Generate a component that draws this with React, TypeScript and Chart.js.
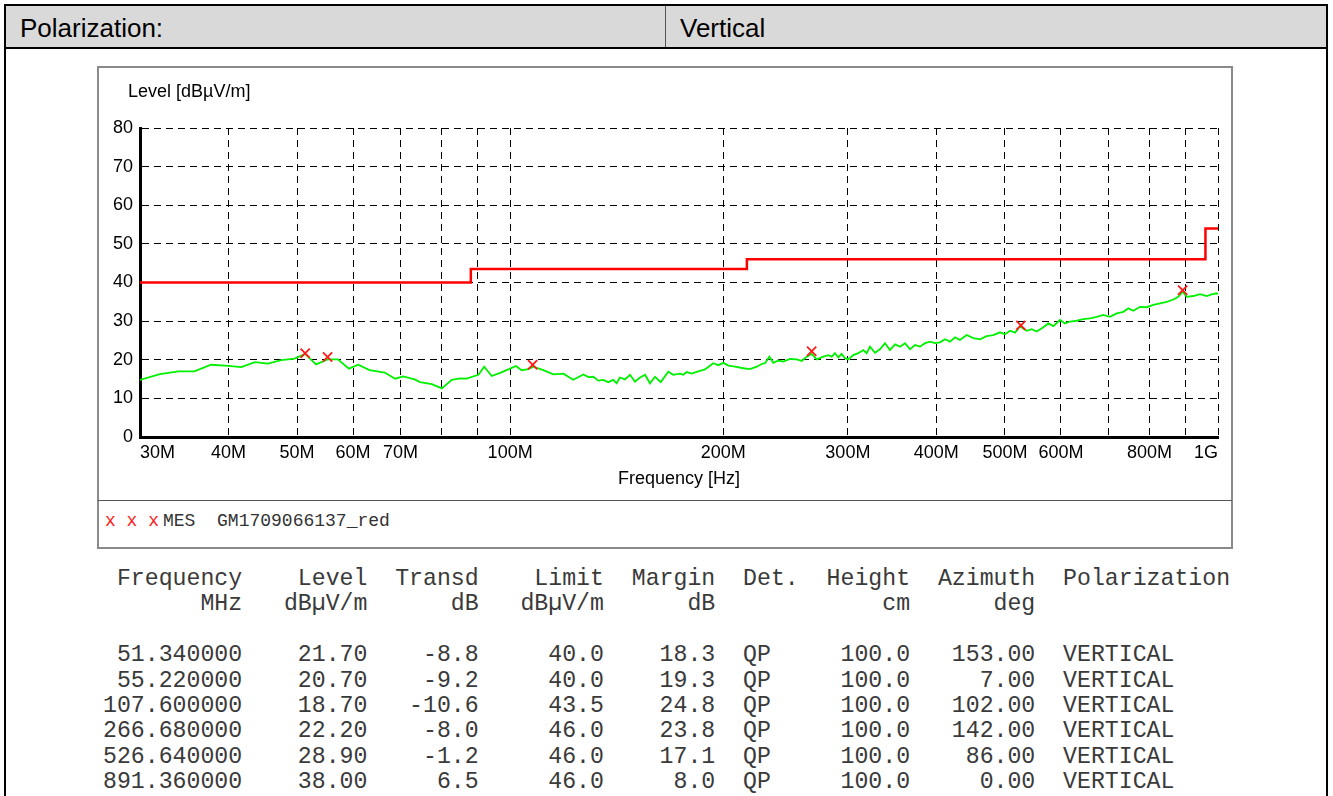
import React, { useEffect, useRef } from 'react';
import { Chart, registerables } from 'chart.js';

Chart.register(...registerables);

// ---- Data ----
const scanFreq = [
  30.0, 32.0, 34.0, 35.8, 37.8, 40.0, 41.7, 43.6, 45.5, 47.5, 49.6, 51.3, 53.2, 55.2, 57.1, 59.2, 61.0, 63.3, 66.5, 68.8,
  70.6, 73.3, 74.6, 77.5, 80.1, 82.7, 85.0, 86.8, 90.2, 91.9, 94.2, 96.8, 100.0, 101.9, 103.8, 106.1, 107.8, 111.4, 115.1, 118.9,
  122.8, 126.9, 129.0, 131.1, 133.2, 135.4, 137.6, 139.9, 141.4, 142.9, 145.3, 147.7, 150.1, 152.6, 155.1, 157.6, 160.2, 163.2, 167.3, 170.0,
  173.8, 175.6, 177.6, 180.5, 184.4, 188.5, 193.6, 196.8, 200.1, 203.4, 207.9, 213.5, 218.2, 223.0, 226.7, 229.1, 232.4, 235.4, 239.3, 243.2,
  248.6, 254.0, 258.2, 262.4, 266.7, 271.1, 277.0, 281.5, 284.7, 287.7, 290.8, 294.0, 297.2, 300.4, 305.3, 310.3, 315.4, 318.9, 322.4, 327.7,
  333.0, 338.5, 344.0, 349.7, 355.4, 361.3, 367.2, 373.2, 379.4, 385.6, 391.9, 398.3, 404.8, 411.5, 418.2, 425.1, 432.0, 441.6, 451.1, 461.1,
  471.2, 481.5, 492.1, 500.2, 508.4, 516.7, 525.2, 536.8, 545.6, 554.5, 566.6, 575.9, 585.3, 598.2, 608.0, 618.0, 631.6, 645.3, 659.5, 674.0,
  688.6, 703.8, 719.3, 734.9, 747.0, 759.2, 776.0, 793.1, 810.3, 828.1, 846.4, 864.7, 878.9, 891.6, 903.3, 922.9, 943.2, 964.0, 979.7, 995.8,
  1000.0,
];
const scanLevel = [
  14.8, 16.3, 17.0, 17.0, 18.7, 18.4, 18.1, 19.4, 19.0, 19.9, 20.3, 21.5, 18.8, 20.1, 20.1, 17.7, 18.7, 17.3, 16.7, 15.1,
  15.7, 14.9, 14.2, 13.7, 12.6, 14.8, 15.2, 15.1, 16.1, 18.2, 15.8, 16.6, 17.7, 18.4, 17.3, 17.6, 18.2, 17.3, 16.2, 16.4,
  14.8, 16.2, 15.5, 15.6, 14.6, 14.8, 14.2, 14.8, 13.9, 15.4, 14.9, 16.1, 14.3, 15.4, 16.1, 13.9, 15.6, 14.2, 16.9, 16.1,
  16.4, 16.1, 16.8, 16.4, 17.0, 17.5, 19.1, 18.6, 19.2, 18.5, 18.2, 17.8, 17.6, 18.2, 18.9, 19.1, 20.8, 19.2, 19.8, 19.5,
  20.2, 20.1, 19.7, 20.8, 21.5, 20.1, 20.8, 21.2, 20.8, 21.7, 20.6, 21.5, 20.4, 20.1, 21.2, 21.7, 22.5, 21.7, 23.4, 21.8,
  22.7, 24.3, 22.5, 24.0, 23.4, 24.3, 22.7, 23.8, 23.4, 24.3, 24.7, 24.3, 24.5, 25.3, 24.7, 25.8, 25.1, 26.4, 25.6, 25.3,
  26.1, 26.4, 27.1, 26.6, 27.5, 27.0, 28.6, 27.5, 27.9, 27.3, 28.4, 29.4, 28.7, 30.3, 29.4, 29.9, 30.1, 30.5, 30.7, 31.1,
  31.6, 31.1, 32.0, 32.4, 33.3, 32.7, 33.7, 33.6, 34.2, 34.6, 35.0, 35.6, 36.3, 37.6, 36.3, 36.5, 37.0, 36.5, 36.9, 37.2,
  37.0,
];

const limitFreq = [30, 88, 216, 960, 1000];
const limitLevel = [40, 43.5, 46, 54, 54];

const mesFreq = [51.34, 55.22, 107.6, 266.68, 526.64, 891.36];
const mesLevel = [21.7, 20.7, 18.7, 22.2, 28.9, 38.0];
const mesTransd = [-8.8, -9.2, -10.6, -8.0, -1.2, 6.5];
const mesLimit = [40.0, 40.0, 43.5, 46.0, 46.0, 46.0];
const mesMargin = [18.3, 19.3, 24.8, 23.8, 17.1, 8.0];
const mesDet = ['QP', 'QP', 'QP', 'QP', 'QP', 'QP'];
const mesHeight = [100.0, 100.0, 100.0, 100.0, 100.0, 100.0];
const mesAzimuth = [153.0, 7.0, 102.0, 142.0, 86.0, 0.0];
const mesPol = ['VERTICAL', 'VERTICAL', 'VERTICAL', 'VERTICAL', 'VERTICAL', 'VERTICAL'];

const xTickValues = [30, 40, 50, 60, 70, 80, 90, 100, 200, 300, 400, 500, 600, 700, 800, 900, 1000];
const xTickLabels = ['30M', '40M', '50M', '60M', '70M', '', '', '100M', '200M', '300M', '400M', '500M', '600M', '', '800M', '', '1G'];
const yTickValues = [0, 10, 20, 30, 40, 50, 60, 70, 80];

const SANS = '"Liberation Sans", Arial, sans-serif';
const MONO = '"Liberation Mono", "Courier New", monospace';

const headerLine1 =
  ' Frequency' + '    Level' + '  Transd' + '    Limit' + '  Margin' + '  Det.' + '  Height' + '  Azimuth' + '  Polarization';
const headerLine2 =
  '       MHz' + '   dBµV/m' + '      dB' + '   dBµV/m' + '      dB' + '      ' + '      cm' + '      deg';

function tableLines(): string[] {
  const rows = mesFreq.map((f, i) =>
    f.toFixed(6).padStart(10) +
    mesLevel[i].toFixed(2).padStart(9) +
    mesTransd[i].toFixed(1).padStart(8) +
    mesLimit[i].toFixed(1).padStart(9) +
    mesMargin[i].toFixed(1).padStart(8) +
    '  ' + mesDet[i] +
    mesHeight[i].toFixed(1).padStart(10) +
    mesAzimuth[i].toFixed(2).padStart(9) +
    '  ' + mesPol[i]
  );
  return [headerLine1, headerLine2, '', ...rows];
}

export default function App() {
  const canvasRef = useRef<HTMLCanvasElement | null>(null);

  useEffect(() => {
    const canvas = canvasRef.current;
    if (!canvas) return;
    const gridOpts = { color: '#000', lineWidth: 1, drawTicks: false };
    const borderOpts = { display: true, color: '#000', width: 3, dash: [7, 5] };
    const chart = new Chart(canvas, {
      type: 'line',
      data: {
        datasets: [
          {
            label: 'MES',
            data: mesFreq.map((f, i) => ({ x: f, y: mesLevel[i] })),
            showLine: false,
            pointStyle: 'crossRot',
            pointRadius: 6.5,
            pointBorderWidth: 1.8,
            borderColor: '#ff1a1a',
            backgroundColor: '#ff1a1a',
          },
          {
            label: 'Limit',
            data: limitFreq.map((f, i) => ({ x: f, y: limitLevel[i] })),
            stepped: 'before',
            borderColor: '#ff0000',
            borderWidth: 2.5,
            pointRadius: 0,
          },
          {
            label: 'Scan',
            data: scanFreq.map((f, i) => ({ x: f, y: scanLevel[i] })),
            borderColor: '#00f000',
            borderWidth: 1.8,
            pointRadius: 0,
            tension: 0,
          },
        ],
      },
      options: {
        responsive: false,
        animation: false,
        events: [],
        layout: { padding: { left: 0, right: 10, top: 61, bottom: 0 } },
        plugins: {
          legend: { display: false },
          tooltip: { enabled: false },
          title: { display: false },
        },
        scales: {
          x: {
            type: 'logarithmic',
            min: 30,
            max: 1000,
            afterBuildTicks: (s: any) => {
              s.ticks = xTickValues.map((v) => ({ value: v }));
            },
            afterFit: (s: any) => {
              s.height = 63;
            },
            ticks: {
              autoSkip: false,
              maxRotation: 0,
              minRotation: 0,
              align: 'inner',
              padding: 5,
              color: '#000',
              font: { size: 18, family: SANS },
              callback: (_v: any, i: number) => xTickLabels[i] ?? '',
            },
            grid: gridOpts,
            border: borderOpts,
            title: {
              display: true,
              text: 'Frequency [Hz]',
              color: '#000',
              font: { size: 18, family: SANS },
              padding: { top: 0, bottom: 10 },
            },
          },
          y: {
            type: 'linear',
            min: 0,
            max: 80,
            afterBuildTicks: (s: any) => {
              s.ticks = yTickValues.map((v) => ({ value: v }));
            },
            afterFit: (s: any) => {
              s.width = 42;
            },
            ticks: {
              padding: 7,
              color: '#000',
              font: { size: 18, family: SANS },
              callback: (v: any) => String(v),
            },
            grid: gridOpts,
            border: borderOpts,
          },
        },
      } as any,
    });
    return () => chart.destroy();
  }, []);

  const abs = (o: React.CSSProperties): React.CSSProperties => ({ position: 'absolute', boxSizing: 'border-box', ...o });

  return (
    <div style={abs({ left: 0, top: 0, width: 1333, height: 796, overflow: 'hidden', background: '#fff', fontFamily: SANS, color: '#000' })}>
      {/* header row */}
      <div style={abs({ left: 4, top: 4, width: 1324, height: 45, border: '2px solid #000', background: '#d9d9d9' })} />
      <div style={abs({ left: 665, top: 6, width: 1, height: 41, background: '#555' })} />
      <div style={abs({ left: 20, top: 14, height: 28, lineHeight: '28px', fontSize: 26, whiteSpace: 'nowrap' })}>Polarization:</div>
      <div style={abs({ left: 680, top: 14, height: 28, lineHeight: '28px', fontSize: 26, whiteSpace: 'nowrap' })}>Vertical</div>
      {/* body box */}
      <div style={abs({ left: 4, top: 47, width: 1324, height: 760, borderLeft: '2px solid #000', borderRight: '2px solid #000' })} />
      {/* chart frame */}
      <div style={abs({ left: 97, top: 66, width: 1136, height: 483, border: '2px solid #8a8a8a' })} />
      <div style={abs({ left: 98, top: 500, width: 1134, height: 1, background: '#555' })} />
      <canvas ref={canvasRef} width={1130} height={433} style={abs({ left: 98, top: 67, width: 1130, height: 433, display: 'block' })} />
      <div style={abs({ left: 128, top: 81, height: 20, lineHeight: '20px', fontSize: 18, whiteSpace: 'nowrap' })}>Level [dBµV/m]</div>
      {/* legend */}
      <div style={abs({ left: 105, top: 511, height: 20, lineHeight: '20px', fontSize: 18, fontFamily: MONO, whiteSpace: 'pre', color: '#333' })}>
        <span style={{ color: '#ff1a1a' }}>x x x</span><span style={{ marginLeft: 4 }}>MES  GM1709066137_red</span>
      </div>
      {/* table */}
      <pre style={abs({ left: 103, top: 567, margin: 0, fontFamily: MONO, fontSize: 23.2, lineHeight: '25.4px', color: '#3a3a3a' })}>
        {tableLines().join('\n')}
      </pre>
    </div>
  );
}
